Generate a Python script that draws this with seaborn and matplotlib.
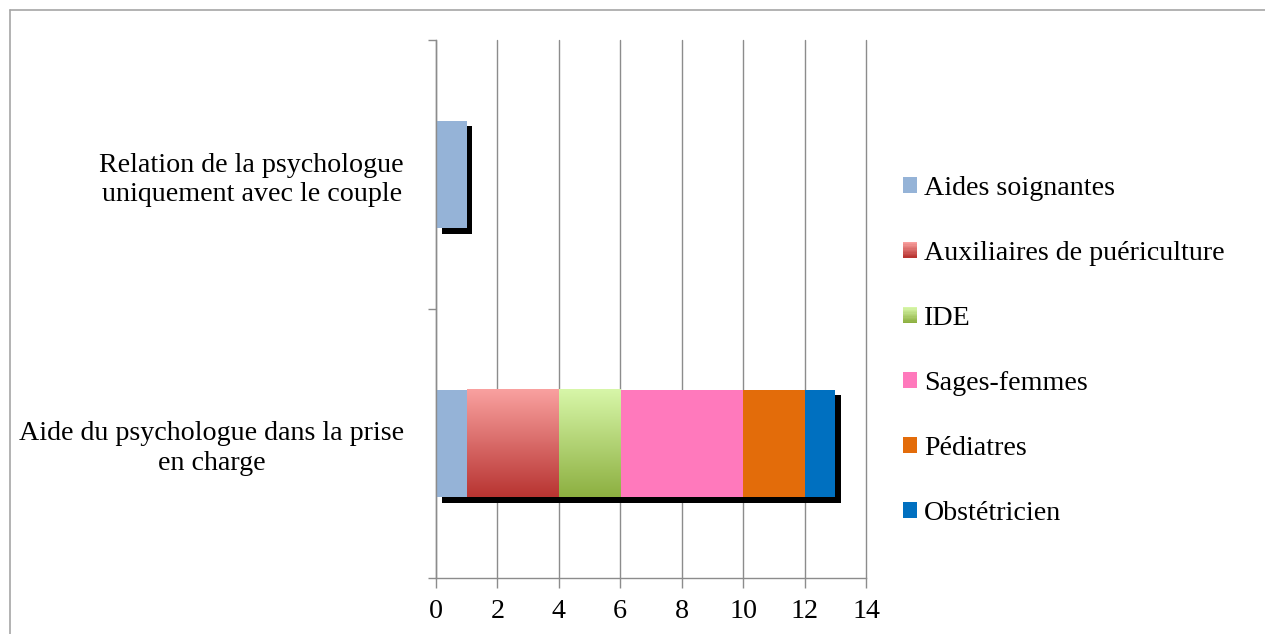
import numpy as np
import pandas as pd
import seaborn as sns
import matplotlib
matplotlib.use("Agg")
import matplotlib.pyplot as plt
from matplotlib.patches import Rectangle
from matplotlib.legend_handler import HandlerBase
from matplotlib.lines import Line2D
import matplotlib.patheffects as pe
from matplotlib.colors import to_rgb

# ---------------- data ----------------
categories = ["Relation de la psychologue\nuniquement avec le couple",
              "Aide du psychologue dans la prise\nen charge"]
series = ["Aides soignantes", "Auxiliaires de puériculture", "IDE",
          "Sages-femmes", "Pédiatres", "Obstétricien"]
aides_soignantes = [1, 1]
auxiliaires = [0, 3]
ide = [0, 2]
sages_femmes = [0, 4]
pediatres = [0, 2]
obstetricien = [0, 1]
xticks = [0, 2, 4, 6, 8, 10, 12, 14]

values = [aides_soignantes, auxiliaires, ide, sages_femmes, pediatres, obstetricien]

# colours: solid or (top, bottom) gradient
colors = {
    "Aides soignantes": "#95B3D7",
    "Auxiliaires de puériculture": ("#F9A09F", "#B83532"),
    "IDE": ("#D7F6A8", "#8DB041"),
    "Sages-femmes": "#FF79BC",
    "Pédiatres": "#E36C0A",
    "Obstétricien": "#0070C0",
}

def base_color(c):
    return c if isinstance(c, str) else c[0]

sns.set_theme(style="white")
plt.rcParams["font.family"] = ["Liberation Serif", "DejaVu Serif"]
plt.rcParams["text.color"] = "black"
plt.rcParams["axes.labelcolor"] = "black"
plt.rcParams["xtick.color"] = "black"
plt.rcParams["ytick.color"] = "black"

df = pd.DataFrame({"cat": categories})
for s, v in zip(series, values):
    df[s] = v
cum = df[series].cumsum(axis=1)
prev = cum.shift(1, axis=1).fillna(0)

fig = plt.figure(figsize=(12.65, 6.34), dpi=100)
ax = fig.add_axes([436/1265, 1-578/634, 430/1265, 538/634])

BAR_W = 0.4
first = True
for s in reversed(series):
    n0 = len(ax.patches)
    sns.barplot(data=pd.DataFrame({"cat": categories, "v": cum[s]}),
                x="v", y="cat", order=categories, orient="h",
                color=base_color(colors[s]), saturation=1, width=BAR_W,
                linewidth=0, ax=ax)
    if first:
        for p in ax.patches[n0:]:
            p.set_path_effects([pe.SimplePatchShadow(offset=(4, -4), shadow_rgbFace="black", alpha=1.0),
                                pe.Normal()])
        first = False

# gradient fills
for s in series:
    c = colors[s]
    if isinstance(c, str):
        continue
    top, bot = np.array(to_rgb(c[0])), np.array(to_rgb(c[1]))
    t = np.linspace(0, 1, 64)[:, None, None]
    grad = top[None, None, :] * (1 - t) + bot[None, None, :] * t
    for i, cat in enumerate(categories):
        if df[s].iloc[i] <= 0:
            continue
        ax.imshow(grad, extent=(prev[s].iloc[i], cum[s].iloc[i], i + BAR_W/2, i - BAR_W/2),
                  origin="upper", aspect="auto", zorder=3, interpolation="bilinear")

ax.set_xlim(xticks[0], xticks[-1])
ax.set_ylim(len(categories) - 0.5, -0.5)
ax.set_xticks(xticks)
ax.set_xlabel("")
ax.set_ylabel("")

grey = "#8c8c8c"
ax.grid(axis="x", color=grey, linewidth=1)
ax.grid(axis="y", visible=False)
ax.set_axisbelow(True)
for gl in ax.xaxis.get_gridlines():
    gl.set_clip_on(False)
for side in ["top", "right"]:
    ax.spines[side].set_visible(False)
for side in ["left", "bottom"]:
    ax.spines[side].set_color(grey)
    ax.spines[side].set_linewidth(1)

FS = 20.2
ax.tick_params(axis="x", bottom=True, direction="out", length=7, width=1, color=grey,
               labelsize=FS, pad=8, labelcolor="black")
ax.tick_params(axis="y", which="major", left=False, labelsize=FS, pad=17, labelcolor="black")
ax.set_yticks([i - 0.5 for i in range(len(categories) + 1)], minor=True)
ax.tick_params(axis="y", which="minor", left=True, direction="out", length=6, width=1, color=grey)
for lbl in ax.get_yticklabels():
    lbl.set_multialignment("center")
    lbl.set_linespacing(1.25)

# legend with gradient handles
class GradHandler(HandlerBase):
    def __init__(self, top, bot, n=12):
        super().__init__()
        self.top, self.bot, self.n = np.array(to_rgb(top)), np.array(to_rgb(bot)), n
    def create_artists(self, legend, orig_handle, xdescent, ydescent, width, height, fontsize, trans):
        arts = []
        h = height / self.n
        for k in range(self.n):
            f = k / (self.n - 1)
            col = self.top * (1 - f) + self.bot * f
            y = -ydescent + height - (k + 1) * h
            arts.append(Rectangle((-xdescent, y), width, h * 1.05, facecolor=col,
                                  edgecolor="none", transform=trans))
        return arts

handles, hmap = [], {}
for s in series:
    c = colors[s]
    r = Rectangle((0, 0), 1, 1, facecolor=base_color(c), edgecolor="none")
    handles.append(r)
    if not isinstance(c, str):
        hmap[r] = GradHandler(c[0], c[1])

fig.legend(handles, series, handler_map=hmap, loc="center left",
           bbox_to_anchor=(903/1265, 1-351/634), frameon=False, fontsize=FS,
           handlelength=0.5, handleheight=0.5, handletextpad=0.25,
           labelspacing=1.43, borderpad=0, borderaxespad=0)

# outer chart frame (top and left edges)
fig.add_artist(Line2D([10/1265, 1], [1-10/634, 1-10/634], transform=fig.transFigure,
                      color="#a6a6a6", linewidth=1.2))
fig.add_artist(Line2D([10/1265, 10/1265], [0, 1-10/634], transform=fig.transFigure,
                      color="#a6a6a6", linewidth=1.2))

fig.savefig("out.png", dpi=100, facecolor="white")
